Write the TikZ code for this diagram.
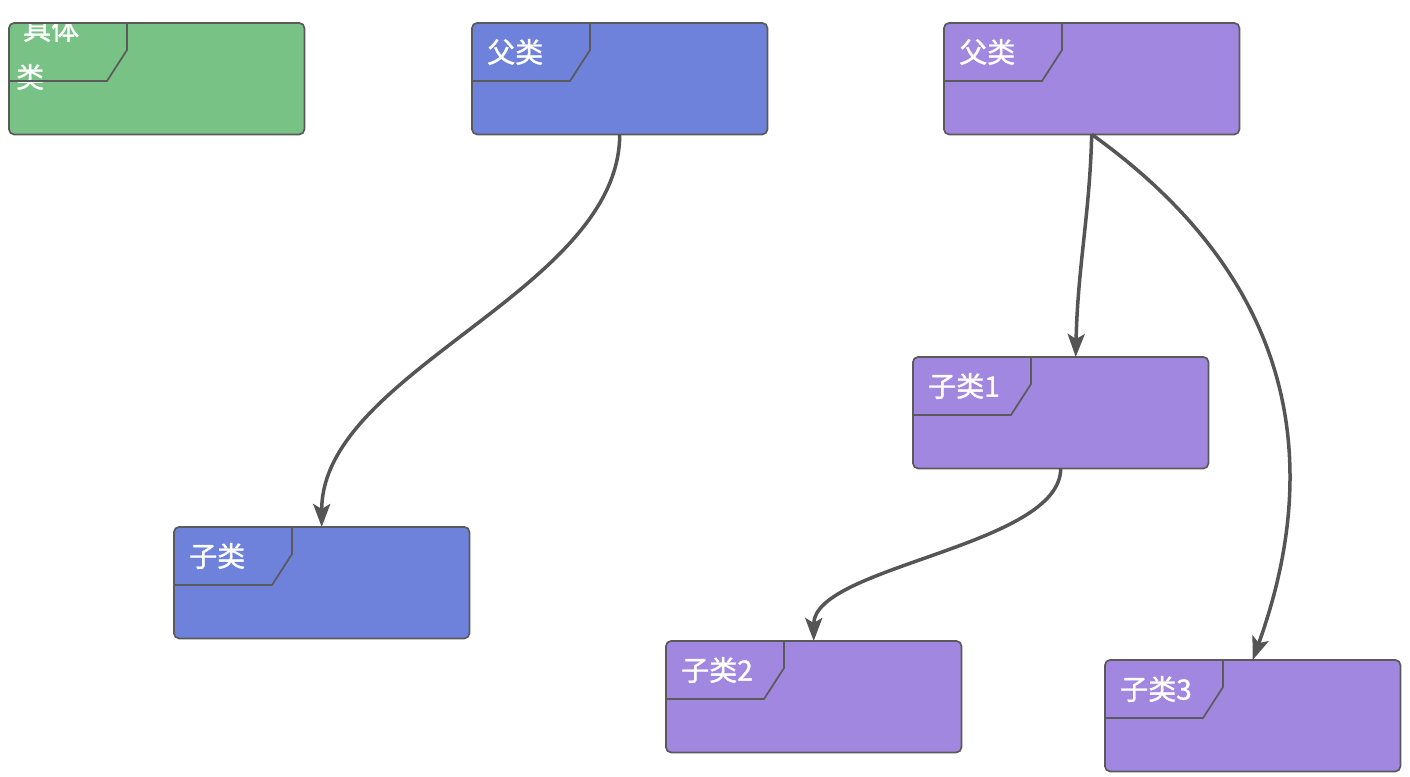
\documentclass[tikz,border=0pt]{standalone}
\usepackage{fontspec}
\setmainfont{Noto Sans CJK SC}[AutoFakeBold=1.2]
\usetikzlibrary{calc,arrows.meta}
\definecolor{cgreen}{HTML}{78C285}
\definecolor{cblue}{HTML}{6F82DB}
\definecolor{cpurple}{HTML}{A287E0}
\definecolor{cborder}{HTML}{5A5A5A}
\definecolor{cedge}{HTML}{555555}
\tikzset{
  boxfill/.style={rectangle, rounded corners=5pt, minimum width=295pt, minimum height=111pt, inner sep=0pt, anchor=north west},
  border/.style={draw=cborder, line width=1.7pt},
  label/.style={text=white, anchor=west, inner sep=0pt, font=\fontsize{28}{30}\selectfont\bfseries},
  edge/.style={draw=cedge, line width=3.5pt, -{Stealth[length=23pt,width=17pt,inset=5pt]}},
}
\newcommand{\umlbox}[4]{%
  \node[boxfill, fill=#4] (#1) at (#2,#3) {};
}
\newcommand{\umlborder}[1]{%
  \draw[border, rounded corners=5pt] (#1.north west) rectangle (#1.south east);
  \draw[border] ($(#1.north west)+(118,0)$) -- ++(0,27) -- ++(-20,31) -- ($(#1.north west)+(0,58)$);
}
\begin{document}
\begin{tikzpicture}[x=1pt,y=-1pt]
\fill[white] (0,0) rectangle (1410,776);
\useasboundingbox (0,0) rectangle (1410,776);
% boxes
\umlbox{g}{9}{23}{cgreen}
\umlbox{p1}{472}{23}{cblue}
\umlbox{c1}{174}{527}{cblue}
\umlbox{p2}{944}{23}{cpurple}
\umlbox{s1}{913}{357}{cpurple}
\umlbox{s2}{666}{641}{cpurple}
\umlbox{s3}{1105}{660}{cpurple}
% green text (under border)
\node[label] (gt1) at ($(g.north west)+(14,6)$) {具体};
\node[label] (gt2) at ($(g.north west)+(7,54)$) {类};
% borders and tabs
\umlborder{g}
\umlborder{p1}
\umlborder{c1}
\umlborder{p2}
\umlborder{s1}
\umlborder{s2}
\umlborder{s3}
% labels
\node[label] (p1t) at ($(p1.north west)+(15,29)$) {父类};
\node[label] (c1t) at ($(c1.north west)+(15,29)$) {子类};
\node[label] (p2t) at ($(p2.north west)+(15,29)$) {父类};
\node[label] (s1t) at ($(s1.north west)+(15,29)$) {子类1};
\node[label] (s2t) at ($(s2.north west)+(15,29)$) {子类2};
\node[label] (s3t) at ($(s3.north west)+(15,29)$) {子类3};
% edges
\draw[edge] (p1.south) .. controls +(0,156) and +(0,-156) .. (c1.north);
\draw[edge] (p2.south) .. controls +(-2,80) and +(2,-90) .. ([xshift=15pt]s1.north);
\draw[edge] (p2.south) .. controls +(218,156) and +(65,-180) .. (s3.north);
\draw[edge] (s1.south) .. controls +(0,78) and +(0,-75) .. (s2.north);
\end{tikzpicture}
\end{document}
